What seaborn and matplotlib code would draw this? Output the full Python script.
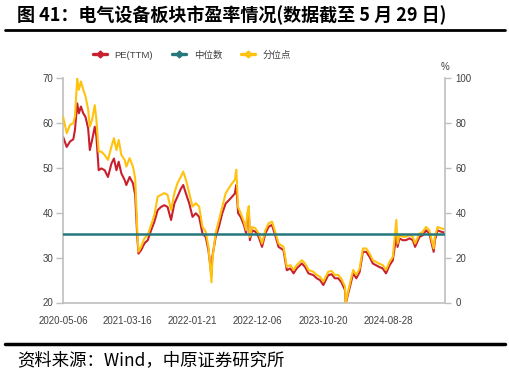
import matplotlib
matplotlib.use('Agg')
import matplotlib.pyplot as plt
import matplotlib.dates as mdates
import matplotlib.transforms as mtransforms
from matplotlib.lines import Line2D
import seaborn as sns
import pandas as pd

# ---------------- data ----------------
dates = [
    '2020-05-06', '2020-05-24', '2020-06-09', '2020-06-25', '2020-07-03', '2020-07-14',
    '2020-07-22', '2020-08-01', '2020-08-12', '2020-08-23', '2020-09-05', '2020-09-13',
    '2020-09-24', '2020-10-07', '2020-10-15', '2020-10-26', '2020-11-08', '2020-11-24',
    '2020-12-10', '2020-12-27', '2021-01-08', '2021-01-20', '2021-01-31', '2021-02-13',
    '2021-03-01', '2021-03-09', '2021-03-25', '2021-04-10', '2021-04-21', '2021-05-01',
    '2021-05-07', '2021-05-20', '2021-06-05', '2021-06-21', '2021-07-07', '2021-07-23',
    '2021-08-08', '2021-08-24', '2021-09-09', '2021-09-25', '2021-10-12', '2021-10-28',
    '2021-11-12', '2021-11-29', '2021-12-10', '2021-12-23', '2022-01-08', '2022-01-24',
    '2022-02-09', '2022-02-25', '2022-03-13', '2022-03-29', '2022-04-11', '2022-04-26',
    '2022-04-30', '2022-05-16', '2022-06-01', '2022-06-17', '2022-07-04', '2022-07-19',
    '2022-08-04', '2022-08-17', '2022-08-24', '2022-09-02', '2022-09-14', '2022-09-30',
    '2022-10-11', '2022-10-16', '2022-10-24', '2022-10-29', '2022-11-09', '2022-11-25',
    '2022-12-11', '2022-12-27', '2023-01-12', '2023-01-28', '2023-02-13', '2023-03-01',
    '2023-03-17', '2023-04-10', '2023-04-26', '2023-05-13', '2023-05-29', '2023-06-13',
    '2023-07-08', '2023-07-24', '2023-08-09', '2023-09-02', '2023-09-18', '2023-10-04',
    '2023-10-20', '2023-11-13', '2023-11-29', '2023-12-15', '2023-12-31', '2024-01-16',
    '2024-02-02', '2024-02-06', '2024-02-26', '2024-03-13', '2024-03-28', '2024-04-13',
    '2024-04-29', '2024-05-15', '2024-05-31', '2024-06-16', '2024-07-02', '2024-07-18',
    '2024-08-03', '2024-08-19', '2024-09-05', '2024-09-21', '2024-10-08', '2024-10-14',
    '2024-10-23', '2024-11-08', '2024-11-24', '2024-12-11', '2024-12-27', '2025-01-07',
    '2025-01-28', '2025-02-13', '2025-03-01', '2025-03-17', '2025-04-07', '2025-04-13',
    '2025-04-26', '2025-05-12', '2025-05-29',
]

pe_ttm = [
    57.0, 54.7, 55.9, 56.4, 58.5, 64.4,
    62.2, 63.7, 62.2, 61.4, 58.8, 54.0,
    56.2, 59.2, 57.0, 49.5, 49.9, 49.5,
    48.0, 51.0, 52.1, 49.5, 51.4, 48.8,
    47.3, 46.2, 48.0, 46.6, 44.0, 34.7,
    30.9, 31.7, 33.2, 33.9, 36.1, 38.0,
    40.6, 41.3, 41.7, 41.3, 38.4, 42.1,
    43.6, 45.4, 46.2, 44.3, 42.1, 39.1,
    39.9, 39.1, 35.4, 34.6, 31.7, 26.0,
    30.2, 34.6, 36.9, 39.9, 42.1, 42.8,
    43.6, 44.3, 46.2, 39.9, 39.1, 37.3,
    35.4, 39.1, 40.3, 33.9, 36.1, 35.8,
    34.6, 32.4, 35.4, 36.9, 37.3, 35.0,
    32.4, 31.7, 27.2, 27.6, 26.5, 27.6,
    28.7, 27.9, 26.5, 26.1, 25.4, 25.0,
    23.9, 26.1, 26.3, 25.4, 25.4, 24.5,
    22.8, 19.8, 23.5, 26.5, 25.4, 26.8,
    31.3, 31.3, 30.2, 28.7, 28.3, 27.9,
    27.6, 26.5, 28.3, 29.4, 35.0, 32.4,
    34.3, 33.9, 33.9, 34.3, 33.9, 32.4,
    34.6, 35.0, 36.1, 35.4, 31.3, 33.9,
    36.1, 35.8, 35.6,
]

percentile = [
    83.0, 75.5, 79.2, 80.0, 83.0, 100.0,
    94.9, 98.6, 95.0, 92.0, 86.0, 78.5,
    81.5, 88.0, 81.5, 67.3, 67.3, 65.8,
    63.6, 69.6, 73.3, 68.0, 72.5, 65.8,
    63.6, 60.6, 64.4, 60.6, 55.4, 32.4,
    22.7, 24.9, 28.7, 30.1, 34.6, 39.0,
    47.2, 48.0, 48.8, 48.0, 41.3, 48.8,
    53.2, 56.2, 58.4, 54.7, 48.8, 42.8,
    44.3, 42.8, 33.8, 31.6, 24.9, 9.0,
    19.0, 30.9, 36.8, 42.8, 48.8, 51.0,
    53.2, 54.7, 59.2, 42.5, 40.0, 36.1,
    32.3, 39.7, 43.0, 29.3, 33.7, 33.1,
    30.7, 26.3, 32.3, 35.3, 36.1, 31.5,
    26.3, 24.9, 15.9, 16.7, 14.5, 16.7,
    18.9, 17.3, 14.5, 13.7, 12.3, 11.5,
    9.3, 13.7, 14.1, 12.3, 12.3, 10.5,
    7.1, 0.0, 8.5, 14.5, 12.3, 15.1,
    24.1, 24.1, 21.9, 18.9, 18.1, 17.3,
    16.7, 14.5, 18.1, 20.3, 36.8, 26.3,
    30.1, 29.3, 29.3, 30.1, 29.3, 26.3,
    30.7, 31.5, 33.7, 32.3, 24.1, 29.3,
    33.7, 33.1, 32.7,
]

median_pe = 35.3
tick_dates = ['2020-05-06', '2021-03-16', '2022-01-21', '2022-12-06', '2023-10-20', '2024-08-28']
left_ticks = [20, 30, 40, 50, 60, 70]
right_ticks = [0, 20, 40, 60, 80, 100]
series_labels = ['PE(TTM)', '中位数', '分位点']

title_text = '图 41：电气设备板块市盈率情况(数据截至 5 月 29 日)'
source_text = '资料来源：Wind，中原证券研究所'

# ---------------- style ----------------
RED = '#C8202D'
TEAL = '#27787D'
YELLOW = '#FFC20E'
GRAY = '#BFBFBF'
TXT = '#404040'

sns.set_theme(style='white')
plt.rcParams['font.family'] = ['Liberation Sans', 'Noto Sans CJK SC', 'DejaVu Sans']

df = pd.DataFrame({'date': pd.to_datetime(dates), 'pe': pe_ttm, 'pct': percentile})

fig = plt.figure(figsize=(5.1, 3.77), dpi=100)
W, H = 510, 377
ax = fig.add_axes([63 / W, 1 - 302.5 / H, (445 - 63) / W, (302.5 - 78.3) / H])
ax2 = ax.twinx()

sns.lineplot(data=df, x='date', y='pe', ax=ax, color=RED, lw=1.5, legend=False)
sns.lineplot(data=df, x='date', y='pct', ax=ax2, color=YELLOW, lw=1.5, legend=False)

# median line (in PE units) drawn on top
trans = mtransforms.blended_transform_factory(ax2.transAxes, ax.transData)
med_line = Line2D([0, 1], [median_pe, median_pe], transform=trans, color=TEAL, lw=1.8, zorder=5)
ax2.add_artist(med_line)

ax.set_ylim(20, 70)
ax2.set_ylim(0, 100)
ax.set_xlim(pd.Timestamp('2020-05-06'), pd.Timestamp('2025-06-01'))

ax.set_yticks(left_ticks)
ax2.set_yticks(right_ticks)
ax.set_xticks(pd.to_datetime(tick_dates))
ax.xaxis.set_major_formatter(mdates.DateFormatter('%Y-%m-%d'))

ax.set_xlabel('')
ax.set_ylabel('')
ax2.set_ylabel('')

for a in (ax, ax2):
    for s in a.spines.values():
        s.set_color(GRAY)
        s.set_linewidth(1.2)
    a.spines['top'].set_visible(False)
ax.spines['right'].set_visible(False)
ax2.spines['left'].set_visible(False)
ax2.spines['bottom'].set_visible(False)

ax.tick_params(axis='y', which='both', left=True, length=5, width=1, color=GRAY,
               labelsize=7, labelcolor=TXT, pad=2)
ax.tick_params(axis='x', which='both', bottom=False, length=0, labelsize=7,
               labelcolor=TXT, pad=10)
ax2.tick_params(axis='y', which='both', right=True, length=4.5, width=1, color=GRAY,
                labelsize=7, labelcolor=TXT, pad=3)

# legend
handles = [
    Line2D([], [], color=RED, lw=2.4, marker='D', markersize=3.5),
    Line2D([], [], color=TEAL, lw=2.4, marker='D', markersize=3.5),
    Line2D([], [], color=YELLOW, lw=2.4, marker='D', markersize=3.5),
]
leg = fig.legend(handles, series_labels, loc='center', bbox_to_anchor=(192 / W, 1 - 55 / H),
                 ncol=3, frameon=False, fontsize=6.8, handlelength=1.5, handletextpad=0.8,
                 columnspacing=2.0)
for t in leg.get_texts():
    t.set_color(TXT)

# texts and rules
fig.text(17 / W, 1 - 15 / H, title_text, fontsize=13, fontweight='bold', color='black',
         va='center', ha='left', family=['Noto Sans CJK SC', 'DejaVu Sans'])
fig.add_artist(Line2D([5 / W, 505 / W], [1 - 30 / H, 1 - 30 / H], color='black', lw=2))
fig.add_artist(Line2D([5 / W, 505 / W], [1 - 344 / H, 1 - 344 / H], color='black', lw=2.5))
fig.text(17 / W, 1 - 360 / H, source_text, fontsize=12.5, color='black', va='center',
         ha='left', family=['Noto Sans CJK SC', 'DejaVu Sans'])
fig.text(445 / W, 1 - 67 / H, '%', fontsize=7, color=TXT, ha='center', va='center')

fig.savefig('out.png', dpi=100)
